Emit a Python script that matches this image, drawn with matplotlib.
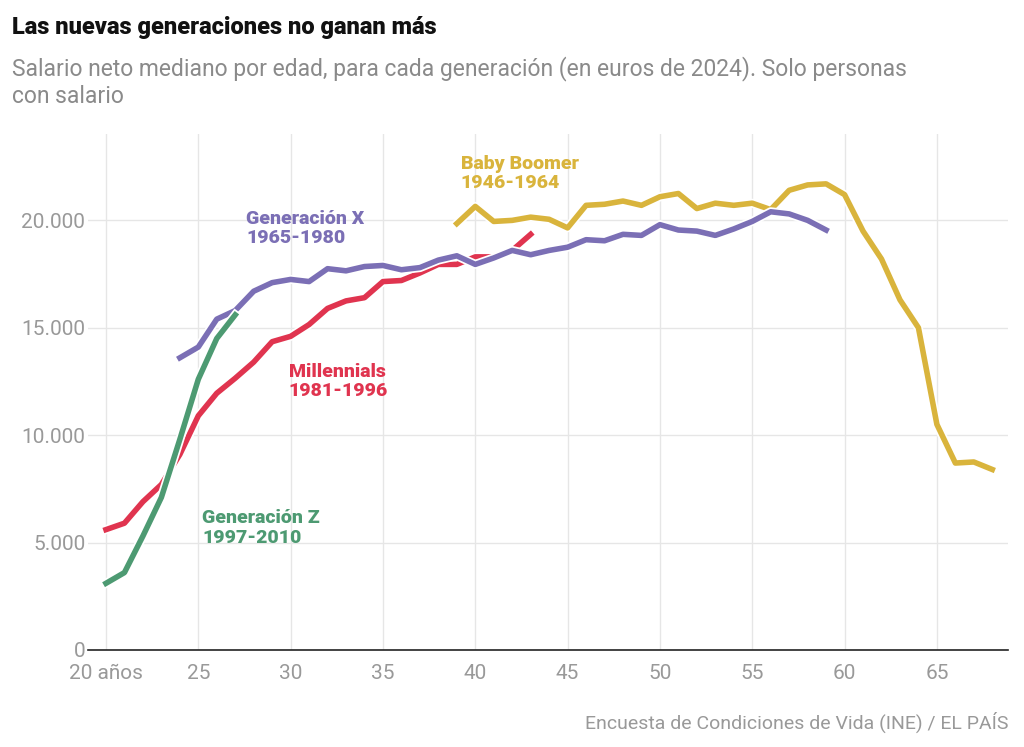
import matplotlib

matplotlib.use("Agg")
import matplotlib.pyplot as plt
import matplotlib.patheffects as pe

plt.rcParams["font.family"] = ["Roboto", "DejaVu Sans"]

# salario neto mediano por edad (euros de 2024)
genz_age = list(range(20, 28))
genz_val = [3100, 3600, 5300, 7100, 9800, 12600, 14500, 15600]

mill_age = list(range(20, 44))
mill_val = [5600, 5900, 6900, 7700, 9100, 10900, 11950, 12650, 13400, 14350, 14600,
            15150, 15900, 16250, 16400, 17150, 17200, 17550, 17950, 17950, 18300,
            18300, 18600, 19350]

genx_age = list(range(24, 60))
genx_val = [13600, 14100, 15400, 15800, 16700, 17100, 17250, 17150, 17750, 17650,
            17850, 17900, 17700, 17800, 18150, 18350, 17950, 18250, 18600, 18400,
            18600, 18750, 19100, 19050, 19350, 19300, 19800, 19550, 19500, 19300,
            19600, 19950, 20400, 20300, 20000, 19550]

boom_age = list(range(39, 69))
boom_val = [19850, 20650, 19950, 20000, 20150, 20050, 19650, 20700, 20750, 20900,
            20700, 21100, 21250, 20550, 20800, 20700, 20800, 20500, 21400, 21650,
            21700, 21200, 19500, 18200, 16300, 15000, 10500, 8700, 8750, 8400]

x_ticks = [20, 25, 30, 35, 40, 45, 50, 55, 60, 65]
x_labels = ["20 años", "25", "30", "35", "40", "45", "50", "55", "60", "65"]
y_ticks = [0, 5000, 10000, 15000, 20000]
y_labels = ["0", "5.000", "10.000", "15.000", "20.000"]

fig = plt.figure(figsize=(10.24, 7.47), dpi=100)
ax = fig.add_axes([0.086, 0.13, 0.898, 0.69])

outline = [pe.Stroke(linewidth=6.5, foreground="white"), pe.Normal()]
series = [
    (boom_age, boom_val, "#d9b43c"),
    (mill_age, mill_val, "#e0344f"),
    (genx_age, genx_val, "#7b6fb5"),
    (genz_age, genz_val, "#4d9a72"),
]
for ages, vals, color in series:
    ax.plot(ages, vals, color=color, linewidth=4, solid_joinstyle="round",
            path_effects=outline, zorder=3)

ax.set_xlim(19.03, 68.83)
ax.set_ylim(0, 24000)
ax.set_xticks(x_ticks, x_labels)
ax.set_yticks(y_ticks, y_labels)
ax.grid(True, color="#e6e6e6", linewidth=1)
ax.set_axisbelow(True)
for side in ["top", "right", "left"]:
    ax.spines[side].set_visible(False)
ax.spines["bottom"].set_color("#222222")
ax.spines["bottom"].set_linewidth(1.2)
ax.tick_params(axis="x", length=0, labelsize=15, colors="#999999", pad=10)
ax.tick_params(axis="y", length=0, labelsize=15, colors="#999999", pad=2)

label_kw = dict(fontsize=14, fontweight="heavy", linespacing=1.1)
ax.text(39.2, 21500, "Baby Boomer\n1946-1964", color="#d9b43c", **label_kw)
ax.text(27.6, 18950, "Generación X\n1965-1980", color="#7b6fb5", **label_kw)
ax.text(29.9, 11800, "Millennials\n1981-1996", color="#e0344f", **label_kw)
ax.text(25.2, 5000, "Generación Z\n1997-2010", color="#4d9a72", **label_kw)

fig.text(0.012, 0.955, "Las nuevas generaciones no ganan más", fontsize=17,
         fontweight="heavy", color="#111111")
fig.text(0.012, 0.862, "Salario neto mediano por edad, para cada generación (en euros de 2024). Solo personas\ncon salario",
         fontsize=16.5, color="#8a8a8a", linespacing=1.25)
fig.text(0.985, 0.025, "Encuesta de Condiciones de Vida (INE) / EL PAÍS", fontsize=14,
         color="#999999", ha="right")

fig.savefig("out.png", dpi=100)
